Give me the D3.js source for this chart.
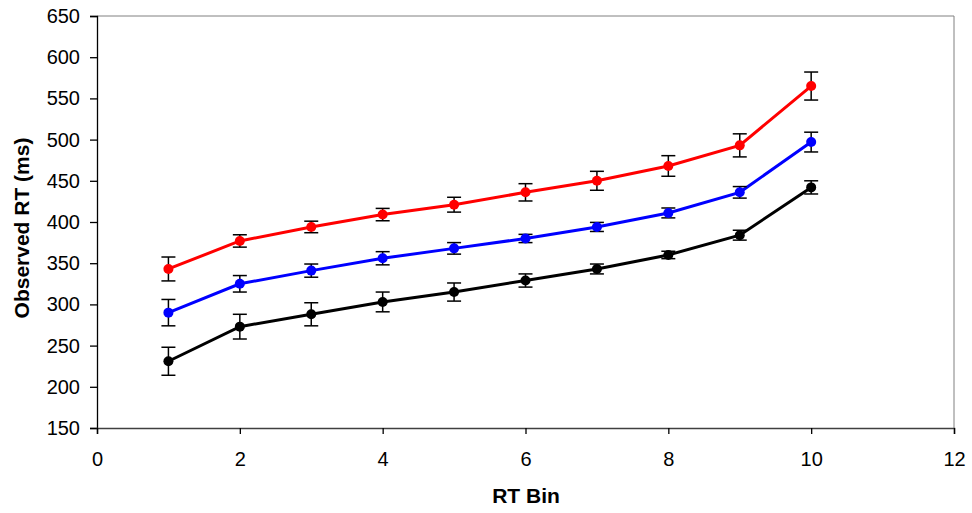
<!DOCTYPE html>
<html>
<head>
<meta charset="utf-8">
<script src="https://cdn.jsdelivr.net/npm/d3@7"></script>
<style>
  html, body { margin: 0; padding: 0; background: #fff; }
  svg { display: block; font-family: "Liberation Sans", Arial, sans-serif; }
</style>
</head>
<body>
<svg id="chart" width="972" height="513"></svg>
<script>
// RT bins (x) and mean observed RT per bin for three conditions, with error half-widths
const bins = [1, 2, 3, 4, 5, 6, 7, 8, 9, 10];
const redRT   = [343, 377, 394, 409, 421, 436, 450, 468, 493, 565];
const redErr  = [14.5, 7.5, 7, 7.5, 9, 10.5, 11.5, 12.5, 14, 17];
const blueRT  = [290, 325, 341, 356, 368, 380, 394, 411, 436, 497];
const blueErr = [16, 10, 8, 8, 7, 5, 5.5, 6, 7, 12];
const blackRT  = [231, 273, 288, 303, 315, 329, 343, 360, 384, 442];
const blackErr = [17, 15, 14, 12, 11, 8, 6, 4.5, 6, 8];
const xTicks = [0, 2, 4, 6, 8, 10, 12];
const yTicks = [150, 200, 250, 300, 350, 400, 450, 500, 550, 600, 650];

const series = [
  { color: "#ff0000", values: redRT, errs: redErr },
  { color: "#0000ff", values: blueRT, errs: blueErr },
  { color: "#000000", values: blackRT, errs: blackErr }
];

const svg = d3.select("#chart");
const plotL = 97, plotR = 954, plotT = 16, plotB = 428;

const x = d3.scaleLinear().domain([0, 12]).range([plotL, plotR]);
const y = d3.scaleLinear().domain([150, 650]).range([plotB, plotT]);

// frame: grey top and right borders
svg.append("line").attr("x1", plotL).attr("x2", plotR).attr("y1", plotT).attr("y2", plotT)
  .attr("stroke", "#808080").attr("stroke-width", 1);
svg.append("line").attr("x1", plotR).attr("x2", plotR).attr("y1", plotT).attr("y2", plotB)
  .attr("stroke", "#808080").attr("stroke-width", 1);

// y axis
const yAxis = svg.append("g").attr("transform", `translate(${plotL},0)`)
  .call(d3.axisLeft(y).tickValues(yTicks).tickSize(7).tickPadding(10).tickFormat(d3.format("d")));
yAxis.select(".domain").attr("stroke", "#000").attr("stroke-width", 1.3);
yAxis.selectAll(".tick line").attr("stroke", "#000").attr("stroke-width", 1.3);
yAxis.selectAll(".tick text").attr("font-size", 20).attr("fill", "#000")
  .attr("font-family", "Liberation Sans, Arial, sans-serif");

// x axis
const xAxis = svg.append("g").attr("transform", `translate(0,${plotB})`)
  .call(d3.axisBottom(x).tickValues(xTicks).tickSize(6).tickPadding(18).tickFormat(d3.format("d")));
xAxis.select(".domain").attr("stroke", "#404040").attr("stroke-width", 1.5);
xAxis.selectAll(".tick line").attr("stroke", "#000").attr("stroke-width", 1.3);
xAxis.selectAll(".tick text").attr("font-size", 20).attr("fill", "#000")
  .attr("font-family", "Liberation Sans, Arial, sans-serif");

// axis titles
svg.append("text").attr("x", 526).attr("y", 503).attr("text-anchor", "middle")
  .attr("font-size", 21).attr("font-weight", "bold").text("RT Bin");
svg.append("text").attr("transform", `translate(29,${(plotT + plotB) / 2 + 6}) rotate(-90)`)
  .attr("text-anchor", "middle").attr("font-size", 21).attr("font-weight", "bold")
  .text("Observed RT (ms)");

const line = d3.line().x((d, i) => x(bins[i])).y(d => y(d));

series.forEach(s => {
  svg.append("path").datum(s.values).attr("d", line)
    .attr("fill", "none").attr("stroke", s.color).attr("stroke-width", 3);

  const g = svg.append("g");
  // error bars
  s.values.forEach((v, i) => {
    const cx = x(bins[i]);
    const hi = y(v + s.errs[i]), lo = y(v - s.errs[i]);
    g.append("line").attr("x1", cx).attr("x2", cx).attr("y1", hi).attr("y2", lo)
      .attr("stroke", "#000").attr("stroke-width", 1.5);
    [hi, lo].forEach(yy => g.append("line").attr("x1", cx - 7).attr("x2", cx + 7)
      .attr("y1", yy).attr("y2", yy).attr("stroke", "#000").attr("stroke-width", 1.5));
  });
  // markers
  g.selectAll("circle").data(s.values).join("circle")
    .attr("cx", (d, i) => x(bins[i])).attr("cy", d => y(d)).attr("r", 5)
    .attr("fill", s.color);
});
</script>
</body>
</html>
